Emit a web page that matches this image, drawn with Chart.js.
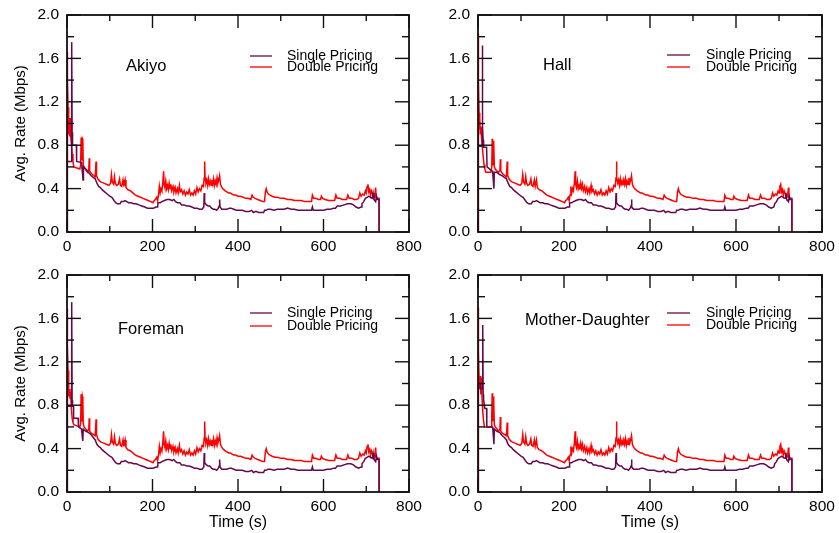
<!DOCTYPE html>
<html><head><meta charset="utf-8">
<script src="https://cdn.jsdelivr.net/npm/chart.js@4.4.1/dist/chart.umd.min.js"></script>
<style>
html,body{margin:0;padding:0;background:#fff;}
#wrap{position:relative;width:839px;height:533px;background:#fff;}
canvas{position:absolute;left:0;top:0;}
</style></head><body>
<div id="wrap">
<canvas id="c0" width="839" height="533"></canvas>
<canvas id="c1" width="839" height="533"></canvas>
<canvas id="c2" width="839" height="533"></canvas>
<canvas id="c3" width="839" height="533"></canvas>
</div>
<script>
// ---------- DATA ----------
const seriesNames = ['Single Pricing', 'Double Pricing'];
const panelNames = ['Akiyo', 'Hall', 'Foreman', 'Mother-Daughter'];
const xTickValues = [0, 200, 400, 600, 800];
const xTickLabels = ['0', '200', '400', '600', '800'];
const xMinorTicks = [100, 300, 500, 700];
const yTickValues = [0, 0.4, 0.8, 1.2, 1.6, 2.0];
const yTickLabels = ['0.0', '0.4', '0.8', '1.2', '1.6', '2.0'];
const yMinorTicks = [0.2, 0.6, 1.0, 1.4, 1.8];

// first seconds, per sequence: [time (s), rate (Mbps)]
const akiyoSingleHead = [[0,0],[0.3,0.65],[10.5,0.65],[11,1.75],[12,0.92],[13,0.8],[22,0.8],[22.5,0.65],[34,0.64],[36,0.55],[37.5,0.48],[38.5,0.6],[44,0.58],[50,0.55],[56,0.52],[62,0.5],[66,0.49],[70,0.45]];
const akiyoDoubleHead = [[0,0],[0.5,1.66],[1.5,1.42],[2.5,1.15],[3.5,1.02],[4.5,0.9],[5.5,0.97],[6.5,0.88],[7.5,1.05],[8.5,0.9],[10,0.82],[12,0.72],[14,0.65],[16,0.6],[30,0.58],[32,0.62],[33,0.87],[34,0.8],[35,0.66],[36,0.86],[37,0.85],[38,0.62],[40,0.6],[44,0.57],[48,0.55],[51,0.58],[52,0.68],[53,0.56],[57,0.54],[62,0.52],[66,0.51],[68,0.65],[69,0.52],[72,0.49]];
const hallSingleHead = [[0,0],[0.3,0.79],[9.5,0.79],[10,1.72],[11,0.97],[12,0.85],[13,0.78],[20,0.78],[21,0.6],[30,0.57],[34,0.56],[36,0.45],[37,0.4],[38,0.55],[44,0.55],[50,0.53],[56,0.52],[62,0.5],[66,0.49],[70,0.45]];
const hallDoubleHead = [[0,0],[0.5,1.83],[1.5,1.4],[2.5,1.1],[3.5,0.95],[4.5,1.05],[5.5,0.9],[7,0.97],[8.5,0.85],[10,0.78],[12,0.7],[14,0.62],[16,0.58],[18,0.55],[30,0.55],[32,0.6],[33,0.86],[34,0.75],[35,0.62],[36,0.84],[37,0.83],[38,0.6],[40,0.58],[44,0.56],[48,0.55],[51,0.57],[52,0.67],[53,0.56],[57,0.54],[62,0.52],[66,0.51],[68,0.65],[69,0.52],[72,0.49]];
const foremanSingleHead = [[0,0],[0.3,0.79],[10.5,0.79],[11,1.75],[12,0.85],[13,0.79],[15,0.79],[15.5,0.68],[26,0.68],[27,0.6],[34,0.58],[36,0.5],[37,0.47],[38,0.58],[44,0.56],[50,0.55],[56,0.53],[62,0.5],[66,0.48],[70,0.44]];
const foremanDoubleHead = [[0,0],[0.5,1.69],[1.5,1.35],[2.5,1.12],[3.5,0.98],[4.5,0.88],[5.5,0.95],[7,0.86],[8.5,0.92],[10,0.78],[12,0.68],[14,0.64],[16,0.62],[30,0.6],[32,0.63],[33,0.9],[34,0.78],[35,0.65],[36,0.88],[37,0.86],[38,0.63],[40,0.6],[44,0.58],[48,0.56],[51,0.58],[52,0.68],[53,0.56],[57,0.54],[62,0.53],[66,0.52],[68,0.67],[69,0.53],[72,0.49]];
const motherSingleHead = [[0,0],[0.3,1.0],[5,1.0],[5.5,0.95],[10.5,0.95],[11,1.54],[12,0.9],[13,0.85],[16,0.77],[20,0.77],[20.5,0.6],[34,0.6],[36,0.5],[37,0.44],[38,0.58],[44,0.56],[50,0.55],[56,0.52],[62,0.5],[66,0.48],[70,0.44]];
const motherDoubleHead = [[0,0],[0.5,1.7],[1.5,1.3],[2.5,1.05],[3.5,0.95],[5,1.07],[6.5,0.9],[8,1.05],[9.5,0.86],[11,0.75],[13,0.65],[15,0.6],[31,0.6],[32,0.7],[33,0.91],[34,0.8],[35,0.66],[36,0.88],[37,0.84],[38,0.62],[40,0.6],[44,0.58],[48,0.56],[51,0.58],[52,0.69],[53,0.56],[57,0.54],[62,0.53],[66,0.52],[68,0.64],[69,0.52],[72,0.49]];

// remainder of the trace (same shape in all four sequences)
const singleTail = [[74,0.42],[78,0.41],[82,0.39],[88,0.37],[94,0.35],[100,0.33],[105,0.32],[110,0.29],[114,0.27],[118,0.26],[124,0.26],[127,0.28],[132,0.28],[136,0.29],[140,0.28],[144,0.27],[150,0.27],[156,0.26],[162,0.26],[168,0.25],[175,0.24],[182,0.23],[188,0.22],[195,0.22],[202,0.22],[208,0.23],[212,0.23],[213,0.27],[218,0.27],[222,0.28],[228,0.29],[234,0.3],[240,0.3],[246,0.29],[250,0.3],[254,0.28],[258,0.27],[264,0.27],[268,0.25],[274,0.25],[280,0.24],[286,0.24],[292,0.23],[298,0.22],[304,0.22],[310,0.21],[316,0.21],[320,0.23],[321,0.36],[322,0.27],[326,0.25],[330,0.24],[334,0.24],[338,0.22],[342,0.21],[346,0.21],[350,0.2],[354,0.22],[356,0.24],[357,0.3],[358,0.23],[362,0.21],[368,0.21],[374,0.21],[380,0.22],[384,0.22],[390,0.21],[396,0.2],[402,0.2],[410,0.2],[418,0.19],[426,0.19],[432,0.2],[436,0.18],[442,0.19],[448,0.18],[454,0.18],[460,0.18],[462,0.2],[466,0.2],[470,0.21],[476,0.21],[484,0.2],[492,0.21],[500,0.21],[508,0.21],[516,0.22],[524,0.21],[532,0.21],[540,0.2],[548,0.2],[556,0.2],[564,0.2],[572,0.2],[574,0.23],[576,0.2],[584,0.2],[592,0.2],[600,0.2],[608,0.21],[616,0.21],[624,0.22],[628,0.22],[632,0.24],[640,0.24],[648,0.25],[656,0.26],[664,0.26],[670,0.25],[676,0.23],[682,0.22],[688,0.23],[690,0.26],[694,0.28],[698,0.31],[702,0.32],[706,0.33],[710,0.32],[714,0.31],[716,0.36],[718,0.3],[722,0.28],[724,0.33],[726,0.3],[730,0.3],[730,0]];
const doubleTail = [[76,0.47],[80,0.46],[86,0.45],[92,0.44],[98,0.43],[102,0.45],[104,0.53],[106,0.46],[109,0.44],[111,0.51],[113,0.45],[116,0.43],[120,0.44],[123,0.49],[125,0.43],[128,0.42],[131,0.48],[133,0.42],[136,0.48],[138,0.41],[142,0.39],[148,0.38],[154,0.36],[160,0.34],[166,0.33],[172,0.32],[178,0.31],[184,0.3],[190,0.29],[196,0.28],[201,0.27],[204,0.29],[207,0.3],[210,0.32],[212,0.29],[214,0.34],[216,0.42],[218,0.36],[220,0.4],[222,0.38],[224,0.45],[226,0.56],[227,0.44],[229,0.41],[231,0.47],[233,0.4],[235,0.43],[237,0.39],[239,0.45],[241,0.4],[243,0.44],[245,0.38],[248,0.42],[250,0.37],[253,0.41],[255,0.36],[258,0.4],[260,0.36],[263,0.43],[265,0.37],[268,0.39],[271,0.35],[274,0.38],[277,0.34],[280,0.37],[283,0.35],[286,0.39],[289,0.34],[292,0.36],[295,0.34],[298,0.38],[301,0.35],[304,0.41],[307,0.37],[310,0.4],[313,0.38],[316,0.43],[319,0.42],[321,0.5],[322,0.65],[323,0.5],[325,0.45],[327,0.48],[329,0.43],[331,0.49],[333,0.44],[335,0.47],[337,0.43],[339,0.48],[341,0.44],[343,0.49],[345,0.43],[347,0.47],[349,0.44],[351,0.5],[353,0.45],[355,0.48],[357,0.52],[359,0.44],[361,0.42],[364,0.4],[367,0.39],[370,0.38],[374,0.37],[378,0.36],[382,0.36],[386,0.35],[390,0.34],[395,0.34],[400,0.33],[406,0.33],[412,0.32],[418,0.31],[424,0.31],[430,0.3],[433,0.34],[436,0.32],[440,0.31],[446,0.3],[452,0.29],[458,0.28],[462,0.28],[464,0.37],[466,0.4],[468,0.37],[471,0.35],[475,0.34],[480,0.33],[486,0.32],[492,0.32],[500,0.31],[508,0.31],[516,0.3],[524,0.3],[532,0.29],[540,0.29],[548,0.29],[556,0.28],[564,0.28],[572,0.28],[574,0.34],[577,0.31],[582,0.31],[588,0.3],[593,0.3],[595,0.33],[598,0.31],[604,0.3],[612,0.29],[620,0.29],[626,0.29],[629,0.34],[632,0.31],[638,0.31],[644,0.3],[650,0.3],[654,0.3],[657,0.34],[660,0.31],[666,0.31],[672,0.3],[678,0.3],[682,0.31],[685,0.36],[688,0.33],[692,0.35],[695,0.34],[698,0.38],[700,0.36],[702,0.42],[704,0.44],[706,0.37],[708,0.39],[710,0.34],[712,0.38],[714,0.36],[716,0.33],[718,0.32],[720,0.33],[722,0.41],[723,0.32],[726,0.31],[730,0.31],[730,0]];

// ---------- STYLE / LAYOUT ----------
const PURPLE = '#640a4c';
const RED = '#ff0000';
const FONT = "'Liberation Sans', Arial, Helvetica, sans-serif";

const panels = [
  {id:'c0', single:akiyoSingleHead, dbl:akiyoDoubleHead, padL:0, yW:67, right:409, top:15, xH:30, padB:271, yTitle:true, xTitle:false,
   label:{x:126,y:66}, leg:{x1:250,x2:272,tx:287,y1:56,y2:67}},
  {id:'c1', single:hallSingleHead, dbl:hallDoubleHead, padL:420, yW:58, right:822, top:15, xH:30, padB:271, yTitle:false, xTitle:false,
   label:{x:543,y:65}, leg:{x1:667,x2:690,tx:706,y1:55,y2:67}},
  {id:'c2', single:foremanSingleHead, dbl:foremanDoubleHead, padL:0, yW:67, right:409, top:275, xH:41, padB:0, yTitle:true, xTitle:true,
   label:{x:118,y:329}, leg:{x1:250,x2:272,tx:287,y1:313,y2:326}},
  {id:'c3', single:motherSingleHead, dbl:motherDoubleHead, padL:420, yW:58, right:822, top:275, xH:41, padB:0, yTitle:false, xTitle:true,
   label:{x:525,y:320}, leg:{x1:667,x2:690,tx:706,y1:313,y2:325}}
];

const toPts = arr => arr.map(p => ({x:p[0], y:p[1]}));

const framePlugin = {
  id: 'frame',
  afterDraw(chart, args, opts) {
    const {ctx, chartArea:a, scales:{x, y}} = chart;
    ctx.save();
    ctx.strokeStyle = '#111';
    ctx.lineWidth = 1.4;
    const seg = (x1,y1,x2,y2) => { ctx.beginPath(); ctx.moveTo(x1,y1); ctx.lineTo(x2,y2); ctx.stroke(); };
    const xt = (v, len) => { const px = x.getPixelForValue(v); seg(px,a.bottom,px,a.bottom-len); seg(px,a.top,px,a.top+len); };
    const yt = (v, len) => { const py = y.getPixelForValue(v); seg(a.left,py,a.left+len,py); seg(a.right,py,a.right-len,py); };
    xTickValues.forEach(v => xt(v, 13));
    xMinorTicks.forEach(v => xt(v, 6));
    yTickValues.forEach(v => yt(v, 14));
    yMinorTicks.forEach(v => yt(v, 7));
    ctx.lineWidth = 1.8;
    ctx.strokeRect(a.left, a.top, a.right - a.left, a.bottom - a.top);
    // panel label
    ctx.fillStyle = '#000';
    ctx.textBaseline = 'middle';
    ctx.textAlign = 'left';
    ctx.font = '16.5px ' + FONT;
    ctx.fillText(opts.name, opts.label.x, opts.label.y);
    // legend
    const L = opts.leg;
    const ds = chart.data.datasets;
    [L.y1, L.y2].forEach((yy, i) => {
      ctx.strokeStyle = ds[i].borderColor;
      ctx.lineWidth = 1.3;
      seg(L.x1, yy, L.x2, yy);
      ctx.fillStyle = '#000';
      ctx.font = '14px ' + FONT;
      ctx.fillText(ds[i].label, L.tx, yy);
    });
    ctx.restore();
  }
};

panels.forEach((p, idx) => {
  new Chart(document.getElementById(p.id), {
    type: 'line',
    data: {
      datasets: [
        {label: seriesNames[0], data: toPts(p.single.concat(singleTail)), borderColor: PURPLE, borderWidth: 1.5, pointRadius: 0, tension: 0, fill: false},
        {label: seriesNames[1], data: toPts(p.dbl.concat(doubleTail)), borderColor: RED, borderWidth: 1.5, pointRadius: 0, tension: 0, fill: false}
      ]
    },
    options: {
      responsive: false, animation: false, devicePixelRatio: 1,
      layout: {padding: {left: p.padL, right: 839 - p.right, top: p.top, bottom: p.padB}},
      plugins: {
        legend: {display: false}, tooltip: {enabled: false},
        frame: {name: panelNames[idx], label: p.label, leg: p.leg}
      },
      scales: {
        x: {
          type: 'linear', min: 0, max: 800,
          grid: {display: false, drawTicks: false}, border: {display: false},
          afterBuildTicks(s) { s.ticks = xTickValues.map(v => ({value: v})); },
          ticks: {padding: 5, color: '#000', font: {family: FONT, size: 15.5}, maxRotation: 0, autoSkip: false,
                  callback: (v, i) => xTickLabels[i]},
          title: {display: p.xTitle, text: 'Time (s)', color: '#000', font: {family: FONT, size: 16}, padding: {top: 0, bottom: 1}},
          afterFit(s) { s.height = p.xH; s.paddingLeft = 0; s.paddingRight = 0; }
        },
        y: {
          type: 'linear', min: 0, max: 2,
          grid: {display: false, drawTicks: false}, border: {display: false},
          afterBuildTicks(s) { s.ticks = yTickValues.map(v => ({value: v})); },
          ticks: {padding: 8, color: '#000', font: {family: FONT, size: 15.5}, autoSkip: false,
                  callback: (v, i) => yTickLabels[i]},
          title: {display: p.yTitle, text: 'Avg. Rate (Mbps)', color: '#000', font: {family: FONT, size: 15}, padding: {top: 12, bottom: 0}},
          afterFit(s) { s.width = p.yW; s.paddingTop = 0; s.paddingBottom = 0; }
        }
      }
    },
    plugins: [framePlugin]
  });
});
</script>
</body></html>
